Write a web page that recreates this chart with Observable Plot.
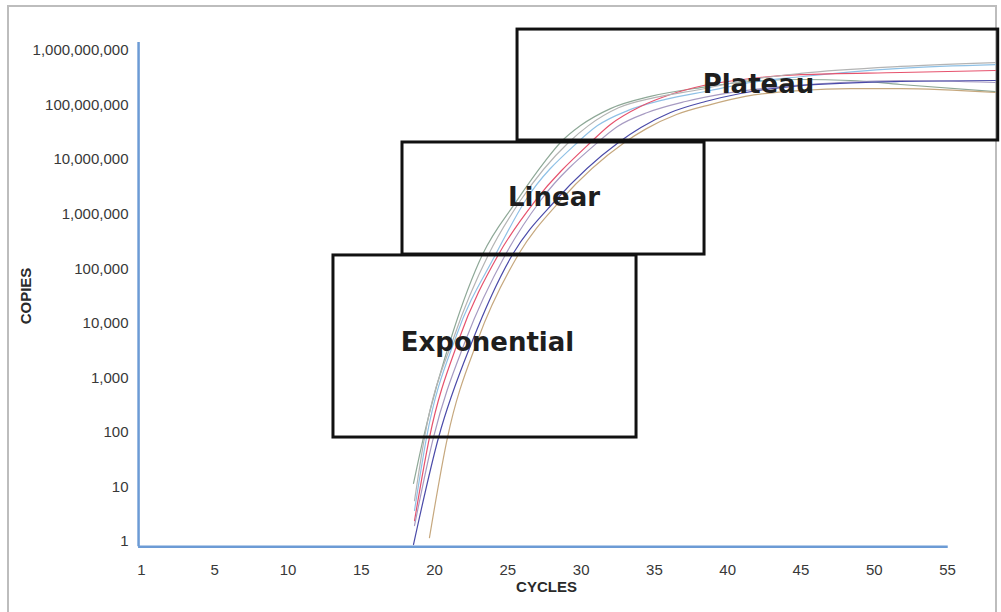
<!DOCTYPE html>
<html>
<head>
<meta charset="utf-8">
<script src="https://cdn.jsdelivr.net/npm/d3@7"></script>
<script src="https://cdn.jsdelivr.net/npm/@observablehq/plot@0.6"></script>
<style>
  html, body { margin: 0; padding: 0; background: #fff; }
  #wrap { position: relative; width: 1001px; height: 612px; overflow: hidden; }
  #frame { position: absolute; left: 7px; top: 5px; width: 990px; height: 630px; border: 2px solid #bdbdbd; box-sizing: border-box; }
  #chart { position: absolute; left: 0; top: 0; }
</style>
</head>
<body>
<div id="wrap"><div id="frame"></div><div id="chart"></div></div>
<script>
// ---- Data ----
const xTicks = [0, 5, 10, 15, 20, 25, 30, 35, 40, 45, 50, 55];
const xTickLabels = ["1", "5", "10", "15", "20", "25", "30", "35", "40", "45", "50", "55"];
const yTicks = [1, 10, 100, 1000, 1e4, 1e5, 1e6, 1e7, 1e8, 1e9];

const seriesNames = ["A", "B", "C", "D", "E", "F", "G"];
const seriesColors = ["#8ea897", "#8fc1e6", "#e6526d", "#a79bc2", "#4b4ba9", "#c6a87e", "#b4b4b4"];

const cyclesA = [18.56, 19.24, 21.29, 23.27, 25.52, 27.57, 28.59, 29.96, 32.0, 34.73, 38.14, 41.56, 44.97, 48.38, 51.79, 58.27];
const copiesA = [11.6, 80.5, 7370, 1.82e5, 1.63e6, 9.6e6, 2.06e7, 4.2e7, 8.6e7, 1.44e8, 2.09e8, 2.7e8, 2.94e8, 2.82e8, 2.38e8, 1.77e8];

const cyclesB = [18.63, 19.45, 21.49, 24.16, 26.2, 29.75, 31.12, 33.17, 35.76, 38.83, 41.56, 44.97, 51.79, 58.27];
const copiesB = [3.7, 80.5, 5970, 1.82e5, 1.78e6, 2.06e7, 4.2e7, 7.9e7, 1.27e8, 1.85e8, 2.59e8, 3.3e8, 4.7e8, 5.5e8];

const cyclesC = [18.63, 19.65, 21.63, 24.36, 26.88, 30.64, 32.0, 34.05, 36.1, 38.35, 41.56, 44.97, 51.79, 58.27];
const copiesC = [2.4, 80.5, 4830, 1.82e5, 1.78e6, 2.06e7, 4.4e7, 9.4e7, 1.56e8, 2.28e8, 3.06e8, 3.6e8, 3.95e8, 4.3e8];

const cyclesD = [18.63, 19.92, 22.11, 24.84, 27.23, 31.12, 32.48, 34.53, 37.12, 40.19, 43.6, 47.7, 51.79, 58.27];
const copiesD = [1.96, 80.5, 4830, 1.82e5, 1.78e6, 2.06e7, 4.04e7, 7.3e7, 1.16e8, 1.69e8, 2.18e8, 2.59e8, 2.82e8, 2.59e8];

const cyclesE = [18.56, 20.27, 22.59, 25.32, 28.25, 32.55, 34.08, 36.1, 38.48, 40.88, 44.97, 51.79, 58.27];
const copiesE = [0.88, 80.5, 4830, 1.82e5, 1.78e6, 2.06e7, 3.87e7, 7.3e7, 1.16e8, 1.63e8, 2.28e8, 2.7e8, 2.82e8];

const cyclesF = [19.65, 20.88, 22.93, 25.72, 28.59, 32.96, 34.46, 36.51, 38.83, 41.21, 44.97, 48.38, 51.79, 58.27];
const copiesF = [1.18, 80.5, 4830, 1.82e5, 1.78e6, 2.06e7, 3.7e7, 6.7e7, 1.02e8, 1.44e8, 1.85e8, 2.0e8, 2.0e8, 1.7e8];

const cyclesG = [18.63, 19.31, 21.36, 23.68, 25.86, 29.14, 30.5, 32.55, 35.07, 38.14, 41.56, 44.97, 51.79, 58.27];
const copiesG = [5.6, 80.5, 5970, 1.82e5, 1.78e6, 2.06e7, 4.2e7, 8.9e7, 1.38e8, 1.93e8, 2.94e8, 3.8e8, 5.1e8, 6.0e8];

const phaseNames = ["Exponential", "Linear", "Plateau"];
const phaseX1 = [13.1, 17.81, 25.66];
const phaseX2 = [33.78, 38.42, 58.46];
const phaseLow = [80.5, 1.82e5, 2.24e7];
const phaseHigh = [1.75e5, 2.06e7, 2.42e9];
const phaseLabelX = [23.61, 28.15, 42.1];
const phaseLabelY = [4440, 1.98e6, 2.33e8];

// ---- Build table ----
const seriesCycles = [cyclesA, cyclesB, cyclesC, cyclesD, cyclesE, cyclesF, cyclesG];
const seriesCopies = [copiesA, copiesB, copiesC, copiesD, copiesE, copiesF, copiesG];
const rows = [];
seriesNames.forEach((s, k) => {
  seriesCycles[k].forEach((c, i) => rows.push({series: s, cycle: c, copies: seriesCopies[k][i]}));
});
const boxes = phaseNames.map((name, i) => ({name, x1: phaseX1[i], x2: phaseX2[i], y1: phaseLow[i], y2: phaseHigh[i], lx: phaseLabelX[i], ly: phaseLabelY[i]}));

const axisBlue = "#6c9bd5";

const chart = Plot.plot({
  width: 1001,
  height: 612,
  marginLeft: 141,
  marginRight: 54,
  marginTop: 50,
  marginBottom: 71,
  style: {fontFamily: "'Liberation Sans', Arial, sans-serif", background: "transparent", overflow: "visible"},
  x: {domain: [0, 55]},
  y: {type: "log", domain: [1, 1e9]},
  color: {domain: seriesNames, range: seriesColors},
  marks: [
    Plot.axisX({ticks: xTicks, tickFormat: d => xTickLabels[xTicks.indexOf(d)], tickSize: 0, tickPadding: 23, fontSize: 15, color: "#383838", label: null}),
    Plot.axisY({ticks: yTicks, tickFormat: d3.format(","), tickSize: 0, tickPadding: 13, fontSize: 15, color: "#383838", label: null}),
    Plot.ruleX([-0.2], {y1: 0.8, y2: 1.4e9, stroke: axisBlue, strokeWidth: 2.5}),
    Plot.ruleY([0.8], {x1: -0.2, x2: 55.05, stroke: axisBlue, strokeWidth: 2.5}),
    Plot.line(rows, {x: "cycle", y: "copies", z: "series", stroke: "series", strokeWidth: 1.2, curve: "monotone-x"}),
    Plot.rect(boxes, {x1: "x1", x2: "x2", y1: "y1", y2: "y2", fill: "none", stroke: "#111", strokeWidth: 3}),
    Plot.text(boxes, {x: "lx", y: "ly", text: "name", fontFamily: "'DejaVu Sans', sans-serif", fontWeight: "bold", fontSize: 26, fill: "#1e1e1e", textAnchor: "middle", lineAnchor: "middle"}),
    Plot.text(["COPIES"], {frameAnchor: "left", dx: -115, rotate: -90, text: d => d, textAnchor: "middle", fontWeight: "bold", fontSize: 15, fill: "#2a2a2a"}),
    Plot.text(["CYCLES"], {frameAnchor: "bottom", dx: 2, dy: 50, text: d => d, textAnchor: "middle", fontWeight: "bold", fontSize: 15, fill: "#2a2a2a"})
  ]
});
document.getElementById("chart").appendChild(chart);
</script>
</body>
</html>
